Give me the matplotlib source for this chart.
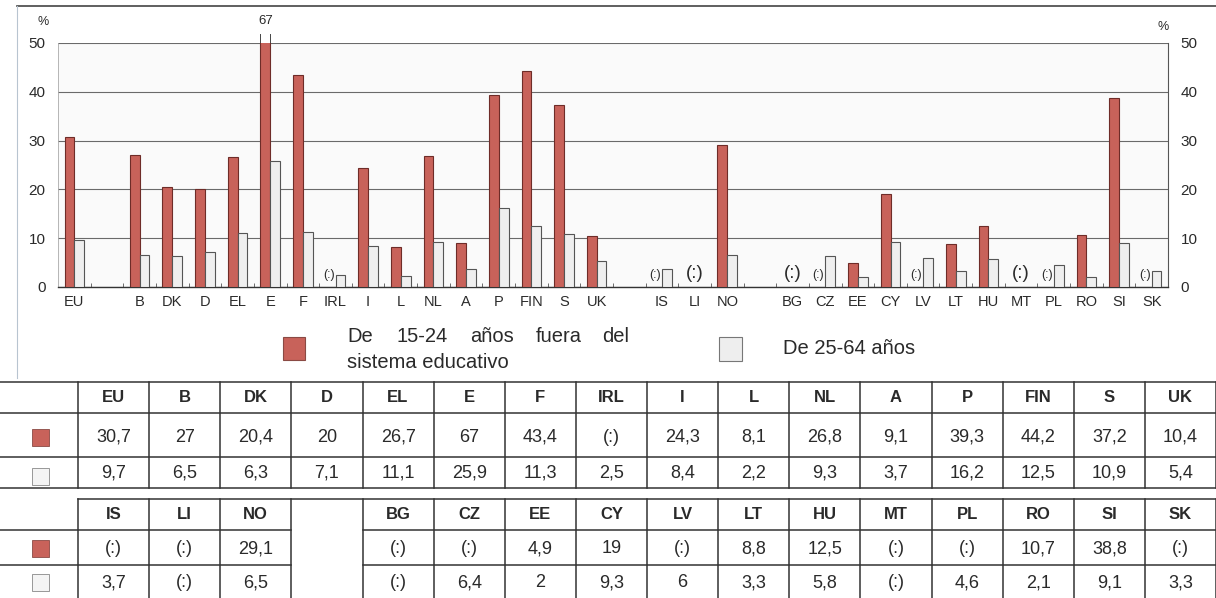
import numpy as np
import matplotlib
matplotlib.use('Agg')
import matplotlib.pyplot as plt
from matplotlib.patches import Rectangle

plt.rcParams['font.family'] = ['Liberation Sans', 'DejaVu Sans']

# data (None = not available, shown as "(:)")
labels_eu = ['EU', 'B', 'DK', 'D', 'EL', 'E', 'F', 'IRL', 'I', 'L', 'NL', 'A', 'P', 'FIN', 'S', 'UK']
young_eu = [30.7, 27, 20.4, 20, 26.7, 67, 43.4, None, 24.3, 8.1, 26.8, 9.1, 39.3, 44.2, 37.2, 10.4]
adult_eu = [9.7, 6.5, 6.3, 7.1, 11.1, 25.9, 11.3, 2.5, 8.4, 2.2, 9.3, 3.7, 16.2, 12.5, 10.9, 5.4]

labels_efta = ['IS', 'LI', 'NO']
young_efta = [None, None, 29.1]
adult_efta = [3.7, None, 6.5]

labels_acc = ['BG', 'CZ', 'EE', 'CY', 'LV', 'LT', 'HU', 'MT', 'PL', 'RO', 'SI', 'SK']
young_acc = [None, None, 4.9, 19, None, 8.8, 12.5, None, None, 10.7, 38.8, None]
adult_acc = [None, 6.4, 2, 9.3, 6, 3.3, 5.8, None, 4.6, 2.1, 9.1, 3.3]

legend_young = 'De 15-24 años fuera del sistema educativo'
legend_adult = 'De 25-64 años'

RED = '#c8625a'
RED_EDGE = '#6e2c28'
GREY = '#efefef'
GREY_EDGE = '#555555'
INK = '#2a2a2a'

# slot positions: groups separated by an empty slot
groups = [(labels_eu[:1], young_eu[:1], adult_eu[:1]),
          (labels_eu[1:], young_eu[1:], adult_eu[1:]),
          (labels_efta, young_efta, adult_efta),
          (labels_acc, young_acc, adult_acc)]
pos, labs, yv, av = [], [], [], []
p = 0
for g_lab, g_y, g_a in groups:
    for l, y, a in zip(g_lab, g_y, g_a):
        pos.append(p); labs.append(l); yv.append(y); av.append(a)
        p += 1
    p += 1
nslots = p - 1

fig = plt.figure(figsize=(12.16, 5.98), dpi=100)
fig.patch.set_facecolor('white')

ax = fig.add_axes([58/1216, 1-287/598, 1110/1216, 244/598])
ax.set_facecolor('#fafafa')
w = 0.3
for x, y, a in zip(pos, yv, av):
    if y is not None:
        ax.bar(x - w/2, y, w, color=RED, edgecolor=RED_EDGE, linewidth=0.8, zorder=3)
    if a is not None:
        ax.bar(x + w/2, a, w, color=GREY, edgecolor=GREY_EDGE, linewidth=0.8, zorder=3)
    if y is None and a is None:
        ax.text(x, 2.7, '(:)', ha='center', va='center', fontsize=13.5, color=INK, zorder=4)
    elif y is None:
        ax.text(x - 0.03, 2.4, '(:)', ha='right', va='center', fontsize=9, color=INK, zorder=4)

ax.set_xlim(-0.5, nslots - 0.5)
ax.set_ylim(0, 50)
ax.set_yticks(range(0, 51, 10))
ax.yaxis.grid(True, color='#6a6a6a', linewidth=0.8)
ax.set_axisbelow(True)
ax.set_xticks(pos)
ax.set_xticklabels(labs)
ax.set_xticks(np.arange(0.5, nslots - 1, 1), minor=True)
ax.tick_params(axis='x', which='major', length=0, pad=6, labelsize=10.5, labelcolor=INK)
ax.tick_params(axis='x', which='minor', direction='in', length=3, color='#555')
ax.tick_params(axis='y', length=0, pad=9, labelsize=11, labelcolor=INK)
ax.spines['top'].set_visible(False)
ax.spines['left'].set_color('#aaaaaa')
ax.spines['left'].set_linewidth(0.6)
ax.spines['right'].set_color('#555555')
ax.spines['right'].set_linewidth(0.8)
ax.spines['bottom'].set_color('#333333')
ax.spines['bottom'].set_linewidth(1.0)

ax2 = ax.twinx()
ax2.set_ylim(0, 50)
ax2.set_yticks(range(0, 51, 10))
ax2.tick_params(axis='y', length=0, pad=9, labelsize=11, labelcolor=INK)
for s in ['top', 'left', 'bottom', 'right']:
    ax2.spines[s].set_visible(False)

# value beyond scale
for x, y in zip(pos, yv):
    if y is not None and y > 50:
        xc = x - w/2
        for e in (xc - w/2, xc + w/2):
            ax.plot([e, e], [50, 51.9], color='#444', linewidth=0.7, clip_on=False)
        ax.text(xc, 54.5, f'{y:g}', ha='center', va='center', fontsize=9.5, color=INK, clip_on=False)

# overlay in pixel coordinates for legend and table
ov = fig.add_axes([0, 0, 1, 1], zorder=-1)
ov.set_xlim(0, 1216)
ov.set_ylim(598, 0)
ov.axis('off')
ov.patch.set_alpha(0)

ov.text(43, 22, '%', fontsize=9, color=INK, ha='center', va='center')
ov.text(1163, 27, '%', fontsize=9, color=INK, ha='center', va='center')
ov.plot([17, 1216], [6, 6], color='#444', linewidth=1.2)
ov.plot([17, 17], [6, 378], color='#b8c4d0', linewidth=0.8)

# legend
ov.add_patch(Rectangle((283, 337), 22, 23, facecolor=RED, edgecolor='#8a4a44', linewidth=0.8))
ov.add_patch(Rectangle((719, 337), 23, 24, facecolor='#eeeeee', edgecolor='#777', linewidth=0.8))
words = legend_young.split()
for wd, xw in zip(words[:5], [347, 396, 470, 536, 602]):
    ov.text(xw, 337, wd, fontsize=14.5, color=INK, ha='left', va='center')
ov.text(347, 362, ' '.join(words[5:]), fontsize=14.5, color=INK, ha='left', va='center')
ov.text(783, 349, legend_adult, fontsize=14.5, color=INK, ha='left', va='center')


def fmt(v):
    return '(:)' if v is None else f'{v:g}'.replace('.', ',')


LC = '#333333'
LW = 1.1
x0, cw = 78, (1216 - 78) / 16

# table 1
t1 = [382, 413, 457, 488]
for yl in t1:
    ov.plot([0, 1216], [yl, yl], color=LC, linewidth=LW)
for i in range(17):
    xl = x0 + i * cw
    ov.plot([xl, xl], [t1[0], t1[-1]], color=LC, linewidth=LW)
for i, (l, y, a) in enumerate(zip(labels_eu, young_eu, adult_eu)):
    xc = x0 + (i + 0.5) * cw
    ov.text(xc, (t1[0] + t1[1]) / 2, l, fontsize=12, fontweight='bold', color=INK, ha='center', va='center')
    ov.text(xc, (t1[1] + t1[2]) / 2 + 2, fmt(y), fontsize=13, color=INK, ha='center', va='center')
    ov.text(xc, (t1[2] + t1[3]) / 2 + 1, fmt(a), fontsize=13, color=INK, ha='center', va='center')

# table 2 (blank column between EFTA and candidate countries)
t2 = [499, 530, 565, 598]
row2_labels = labels_efta + [None] + labels_acc
row2_young = young_efta + [None] + young_acc
row2_adult = adult_efta + [None] + adult_acc
blank = len(labels_efta)
ov.plot([x0, 1216], [t2[0], t2[0]], color=LC, linewidth=LW)
for yl in t2[1:3]:
    ov.plot([0, x0 + blank * cw], [yl, yl], color=LC, linewidth=LW)
    ov.plot([x0 + (blank + 1) * cw, 1216], [yl, yl], color=LC, linewidth=LW)
for i in range(17):
    xl = x0 + i * cw
    ov.plot([xl, xl], [t2[0], t2[-1]], color=LC, linewidth=LW)
for i, (l, y, a) in enumerate(zip(row2_labels, row2_young, row2_adult)):
    if l is None:
        continue
    xc = x0 + (i + 0.5) * cw
    ov.text(xc, (t2[0] + t2[1]) / 2, l, fontsize=12, fontweight='bold', color=INK, ha='center', va='center')
    ov.text(xc, (t2[1] + t2[2]) / 2 + 1, fmt(y), fontsize=13, color=INK, ha='center', va='center')
    ov.text(xc, (t2[2] + t2[3]) / 2 + 1, fmt(a), fontsize=13, color=INK, ha='center', va='center')

# row icons
for yc in [(t1[1] + t1[2]) / 2 + 2, (t2[1] + t2[2]) / 2]:
    ov.add_patch(Rectangle((32, yc - 8), 17, 17, facecolor=RED, edgecolor='#8a4a44', linewidth=0.6))
for yc in [(t1[2] + t1[3]) / 2 + 3, (t2[2] + t2[3]) / 2]:
    ov.add_patch(Rectangle((32, yc - 8), 17, 17, facecolor='#f4f4f4', edgecolor='#888', linewidth=0.6))

fig.savefig('out.png', dpi=100, facecolor='white')
